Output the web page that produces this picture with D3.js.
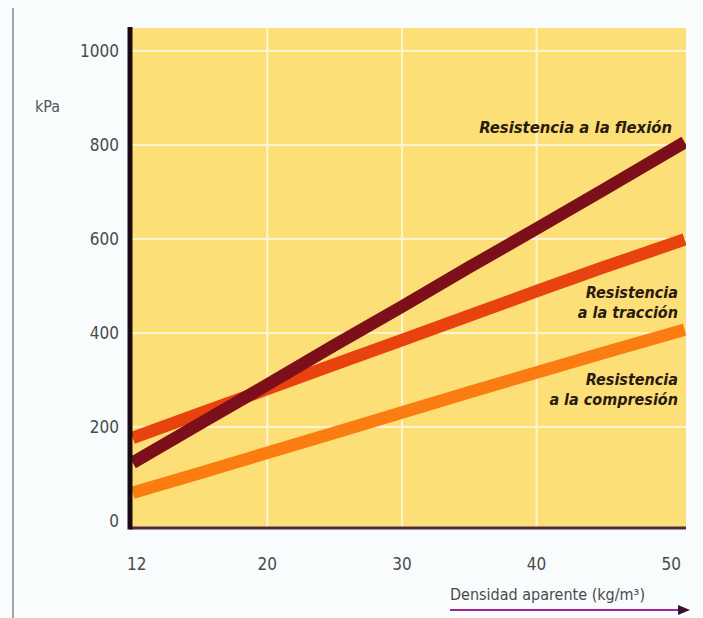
<!DOCTYPE html>
<html><head><meta charset="utf-8">
<script src="https://cdn.jsdelivr.net/npm/d3@7"></script>
<style>html,body{margin:0;padding:0;background:#f8fcfd;}svg{display:block;}</style>
</head><body>
<svg id="c" width="703" height="618"></svg>
<script>
const densidad = [10, 15, 20, 25, 30, 35, 40, 45, 51];
const flexion = [124, 207, 290, 374, 456, 540, 622, 705, 806];
const traccion = [177, 229, 281, 333, 385, 437, 489, 540, 599];
const compresion = [60, 102, 145, 188, 231, 274, 316, 358, 407];
const yTicks = [0, 200, 400, 600, 800, 1000];
const yTickLabels = ["0", "200", "400", "600", "800", "1000"];
const xTicks = [10, 20, 30, 40, 50];
const xTickLabels = ["12", "20", "30", "40", "50"];
const seriesNames = ["Resistencia a la flexión", "Resistencia a la tracción", "Resistencia a la compresión"];

const svg = d3.select("#c");
const L = 130, R = 686, T = 28, B = 528;
const x = d3.scaleLinear().domain([9.8, 51.1]).range([L, R]);
const y = d3.scaleLinear().domain([0, 1000]).range([521, 51]);

// page border line
svg.append("line").attr("x1", 13).attr("x2", 13).attr("y1", 8).attr("y2", 618)
  .attr("stroke", "#8a8a90").attr("stroke-width", 1.5);

// plot background
svg.append("rect").attr("x", L).attr("y", T).attr("width", R - L).attr("height", B - T).attr("fill", "#fcdf76");

// grid
const g = svg.append("g");
g.selectAll("line.h").data(yTicks.filter(d => d > 0)).join("line")
  .attr("x1", L).attr("x2", R).attr("y1", d => y(d)).attr("y2", d => y(d))
  .attr("stroke", "#fff4d2").attr("stroke-width", 2);
g.selectAll("line.v").data([20, 30, 40]).join("line")
  .attr("y1", T).attr("y2", B).attr("x1", d => x(d)).attr("x2", d => x(d))
  .attr("stroke", "#fff4d2").attr("stroke-width", 2);

// lines
const line = d3.line().x((d, i) => x(densidad[i])).y(d => y(d));
const defs = svg.append("defs");
defs.append("clipPath").attr("id", "clip").append("rect").attr("x", L).attr("y", T).attr("width", R - L).attr("height", B - T);
const lg = svg.append("g").attr("clip-path", "url(#clip)");
[[compresion, "#fb7d12"], [traccion, "#e8420e"], [flexion, "#7c0f1a"]].forEach(([data, col]) => {
  lg.append("path").datum(data).attr("d", line).attr("fill", "none")
    .attr("stroke", col).attr("stroke-width", 12.5).attr("stroke-linecap", "butt").attr("stroke-linejoin", "round");
});

// axes
svg.append("line").attr("x1", L).attr("x2", R).attr("y1", B).attr("y2", B)
  .attr("stroke", "#4a2c44").attr("stroke-width", 3);
svg.append("line").attr("x1", L).attr("x2", L).attr("y1", T - 1).attr("y2", B + 1.5)
  .attr("stroke", "#1a0a10").attr("stroke-width", 5);

// y tick labels
svg.append("g").selectAll("text").data(yTicks).join("text")
  .attr("x", 119).attr("y", d => y(d) + 6).attr("text-anchor", "end")
  .attr("font-family", "DejaVu Sans Condensed, DejaVu Sans").attr("font-size", 17)
  .attr("fill", "#4a4a4a").text((d, i) => yTickLabels[i]);
svg.append("text").attr("x", 35).attr("y", 112).attr("font-family", "DejaVu Sans Condensed, DejaVu Sans")
  .attr("font-size", 16).attr("fill", "#555").text("kPa");

// x tick labels
svg.append("g").selectAll("text").data(xTicks).join("text")
  .attr("x", (d, i) => i === 0 ? x(d) + 4 : x(d)).attr("y", 570).attr("text-anchor", "middle")
  .attr("font-family", "DejaVu Sans Condensed, DejaVu Sans").attr("font-size", 17)
  .attr("fill", "#4a4a4a").text((d, i) => xTickLabels[i]);

// x axis title with arrow
svg.append("text").attr("x", 450).attr("y", 600).attr("font-family", "DejaVu Sans Condensed, DejaVu Sans")
  .attr("font-size", 16).attr("fill", "#4a4a4a").text("Densidad aparente (kg/m³)");
svg.append("line").attr("x1", 450).attr("x2", 680).attr("y1", 610).attr("y2", 610)
  .attr("stroke", "#a0249a").attr("stroke-width", 2);
svg.append("path").attr("d", "M678,605 L690,610 L678,615 Z").attr("fill", "#3a1030");

// series labels
const lab = svg.append("g").attr("font-family", "DejaVu Sans Condensed, DejaVu Sans")
  .attr("fill", "#2a1a10").attr("text-anchor", "end").attr("font-weight", "bold");
lab.append("text").attr("x", 672).attr("y", 133).attr("font-style", "italic").attr("font-size", 16.5)
  .text(seriesNames[0]);
const t2 = lab.append("text").attr("font-size", 16).attr("font-style", "italic");
t2.append("tspan").attr("x", 678).attr("y", 298).text("Resistencia");
t2.append("tspan").attr("x", 678).attr("y", 318).text("a la tracción");
const t3 = lab.append("text").attr("font-size", 16).attr("font-style", "italic");
t3.append("tspan").attr("x", 678).attr("y", 385).text("Resistencia");
t3.append("tspan").attr("x", 678).attr("y", 405).text("a la compresión");
</script>
</body></html>
